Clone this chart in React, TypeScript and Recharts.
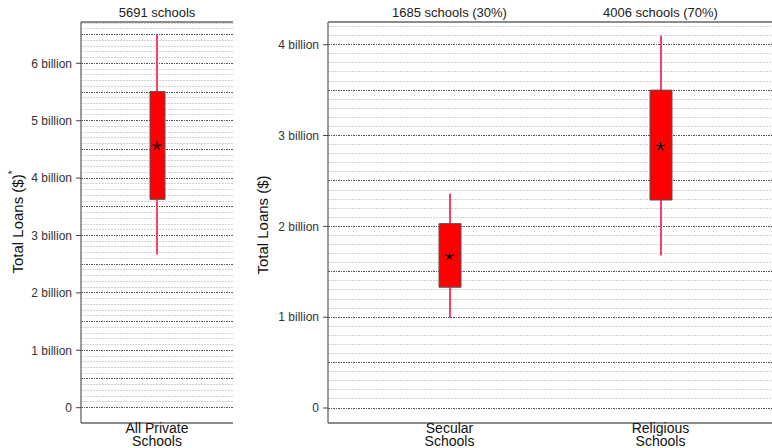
import { ComposedChart, Bar, Line, XAxis, YAxis, CartesianGrid } from 'recharts';

// values in billions of dollars
const allCats = ['All Private|Schools'];
const allCounts = ['5691 schools'];
const allMin = [2.67];
const allQ1 = [3.63];
const allMedian = [4.56];
const allQ3 = [5.51];
const allMax = [6.5];

const splitCats = ['Secular|Schools', 'Religious|Schools'];
const splitCounts = ['1685 schools (30%)', '4006 schools (70%)'];
const splitMin = [0.99, 1.68];
const splitQ1 = [1.33, 2.29];
const splitMedian = [1.67, 2.88];
const splitQ3 = [2.03, 3.5];
const splitMax = [2.36, 4.1];

const allTicks = [0, 1, 2, 3, 4, 5, 6];
const splitTicks = [0, 1, 2, 3, 4];

const FONT = '"Liberation Sans", Arial, sans-serif';
const WHISKER = '#f5426a';

const buildRows = (cats: string[], counts: string[], mn: number[], q1: number[], med: number[], q3: number[], mx: number[]) =>
  cats.map((cat, i) => ({
    cat,
    count: counts[i],
    whisker: [mn[i], mx[i]],
    box: [q1[i], q3[i]],
    median: med[i],
  }));

const allRows = buildRows(allCats, allCounts, allMin, allQ1, allMedian, allQ3, allMax);
const splitRows = buildRows(splitCats, splitCounts, splitMin, splitQ1, splitMedian, splitQ3, splitMax);

// grid every 0.1 billion, darker every 0.5
const gridSteps = (top: number) => Array.from({ length: Math.round(top * 10) + 1 }, (_, i) => i / 10);
const minorOf = (top: number) => gridSteps(top).filter((_, i) => i % 5 !== 0);
const majorOf = (top: number) => gridSteps(top).filter((_, i) => i % 5 === 0);

const fmt = (v: number) => (v === 0 ? '0' : `${v} billion`);

const CountTick = (props: any) => {
  const { x, y, payload, counts } = props;
  return (
    <text x={x} y={y - 3} textAnchor="middle" fontSize={13} fontFamily={FONT} fill="#222">
      {counts[payload.index]}
    </text>
  );
};

const CatTick = (props: any) => {
  const { x, y, payload } = props;
  const [a, b] = String(payload.value).split('|');
  return (
    <text x={x} textAnchor="middle" fontSize={14} fontFamily={FONT} fill="#111">
      <tspan x={x} y={y + 8}>{a}</tspan>
      <tspan x={x} y={y + 21}>{b}</tspan>
    </text>
  );
};

const Star = (props: any) => {
  const { cx, cy } = props;
  if (cx == null || cy == null) return null;
  const r = 4.5;
  const d = [0, 1, 2, 3, 4]
    .map((k) => {
      const a = (-90 + k * 72) * (Math.PI / 180);
      return `M${cx},${cy}L${cx + r * Math.cos(a)},${cy + r * Math.sin(a)}`;
    })
    .join('');
  return <path d={d} stroke="#000" strokeWidth={1.2} fill="none" />;
};

interface PanelProps {
  rows: any[];
  counts: string[];
  ticks: number[];
  domain: [number, number];
  gridTop: number;
  width: number;
  yWidth: number;
  padding: { left: number; right: number };
  boxSize: number;
  rightBorder: boolean;
  marginRight: number;
  title: React.ReactNode;
}

function Panel(p: PanelProps) {
  return (
    <ComposedChart
      width={p.width}
      height={448}
      data={p.rows}
      margin={{ top: 0, right: p.marginRight, bottom: 0, left: 0 }}
      style={{ fontFamily: FONT }}
    >
      <CartesianGrid
        xAxisId="bottom"
        yAxisId="v"
        horizontal
        vertical={false}
        horizontalValues={minorOf(p.gridTop)}
        stroke="#d2d2d2"
        strokeDasharray="2 1"
        shapeRendering="crispEdges"
      />
      <CartesianGrid
        xAxisId="bottom"
        yAxisId="v"
        horizontal
        vertical={false}
        horizontalValues={majorOf(p.gridTop)}
        stroke="#555"
        strokeDasharray="1.5 1"
        shapeRendering="crispEdges"
      />
      <XAxis
        xAxisId="top"
        orientation="top"
        dataKey="cat"
        height={22}
        padding={p.padding}
        axisLine={{ stroke: '#666', strokeWidth: 1.3 }}
        tickLine={false}
        tickSize={0}
        tick={<CountTick counts={p.counts} />}
        interval={0}
      />
      <XAxis
        xAxisId="bottom"
        dataKey="cat"
        height={25}
        padding={p.padding}
        axisLine={{ stroke: '#666', strokeWidth: 1.3 }}
        tickLine={false}
        tickSize={0}
        tick={<CatTick />}
        interval={0}
      />
      <YAxis
        yAxisId="v"
        width={p.yWidth}
        domain={p.domain}
        ticks={p.ticks}
        interval={0}
        allowDataOverflow
        tickFormatter={fmt}
        tickSize={5}
        tickMargin={4}
        axisLine={{ stroke: '#666', strokeWidth: 1.3 }}
        tickLine={{ stroke: '#444' }}
        tick={{ fontSize: 12, fill: '#333', fontFamily: FONT }}
        label={{ content: () => p.title } as any}
      />
      {p.rightBorder && (
        <YAxis
          yAxisId="r"
          orientation="right"
          width={0}
          domain={p.domain}
          ticks={[]}
          axisLine={{ stroke: '#666', strokeWidth: 1.3 }}
          tickLine={false}
          tick={false}
        />
      )}
      <Bar
        xAxisId="top"
        yAxisId="v"
        dataKey="whisker"
        barSize={2}
        fill={WHISKER}
        isAnimationActive={false}
      />
      <Bar
        xAxisId="bottom"
        yAxisId="v"
        dataKey="box"
        barSize={p.boxSize}
        fill="#ff0000"
        stroke="#555"
        strokeWidth={1}
        isAnimationActive={false}
      />
      <Line
        xAxisId="bottom"
        yAxisId="v"
        dataKey="median"
        stroke="none"
        dot={<Star />}
        activeDot={false}
        isAnimationActive={false}
      />
    </ComposedChart>
  );
}

const yTitle = (x: number, y: number, sup: boolean) => (
  <text
    x={x}
    y={y}
    transform={`rotate(-90, ${x}, ${y})`}
    textAnchor="middle"
    dominantBaseline="central"
    fontSize={15}
    fontFamily={FONT}
    fill="#111"
  >
    Total Loans ($)
    {sup && (
      <tspan dy={-5} fontSize={10}>
        *
      </tspan>
    )}
  </text>
);

export default function App() {
  return (
    <div
      style={{
        position: 'fixed',
        left: 0,
        top: 0,
        width: 772,
        height: 448,
        overflow: 'hidden',
        background: '#fff',
        display: 'flex',
      }}
    >
      <Panel
        rows={allRows}
        counts={allCounts}
        ticks={allTicks}
        domain={[-0.267, 6.72]}
        gridTop={6.7}
        width={240}
        yWidth={81}
        padding={{ left: 0, right: 0 }}
        boxSize={15}
        rightBorder
        marginRight={7}
        title={yTitle(17, 222, true)}
      />
      <Panel
        rows={splitRows}
        counts={splitCounts}
        ticks={splitTicks}
        domain={[-0.165, 4.25]}
        gridTop={4.2}
        width={532}
        yWidth={88}
        padding={{ left: 16, right: 6 }}
        boxSize={22}
        rightBorder={false}
        marginRight={0}
        title={yTitle(22, 225, false)}
      />
    </div>
  );
}
